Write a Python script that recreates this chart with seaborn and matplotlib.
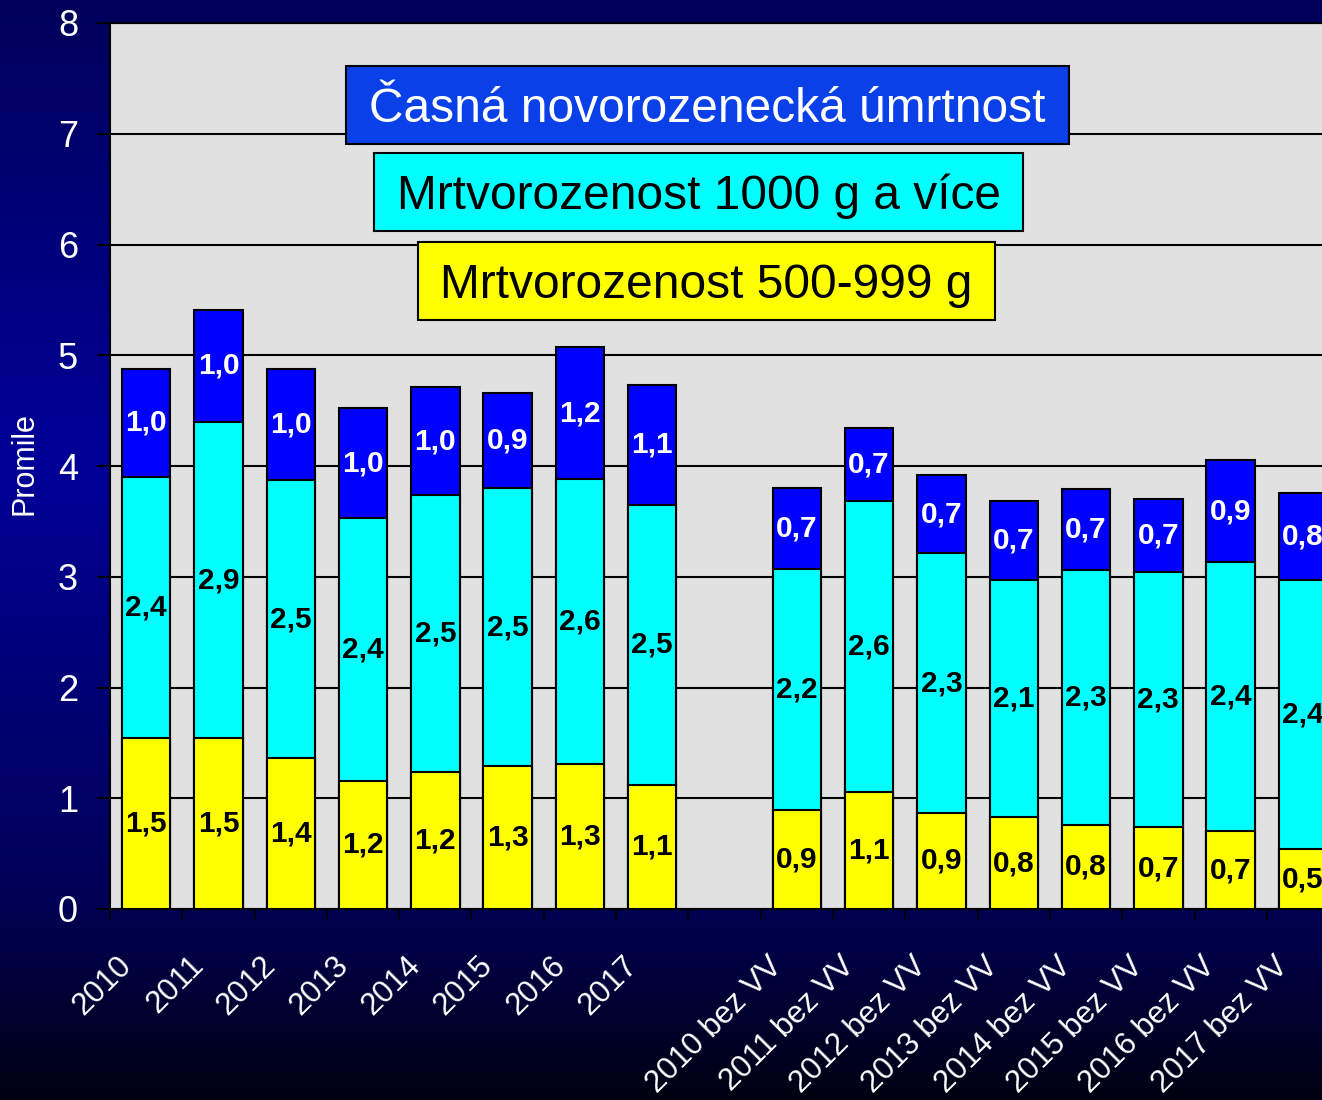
import numpy as np
import pandas as pd
import matplotlib
matplotlib.use("Agg")
import matplotlib.pyplot as plt
import matplotlib.transforms as mtransforms
from matplotlib.colors import LinearSegmentedColormap
from matplotlib.patches import Rectangle
import seaborn as sns

W, H = 1322, 1100

years = ["2010", "2011", "2012", "2013", "2014", "2015", "2016", "2017"]
years_bez = [y + " bez VV" for y in years]
categories = years + years_bez
gap = " "
order = years + [gap] + years_bez

# promile
mrtvo_500 = [1.54, 1.54, 1.36, 1.16, 1.24, 1.29, 1.31, 1.12,
             0.89, 1.06, 0.87, 0.83, 0.76, 0.74, 0.70, 0.54]
mrtvo_1000 = [2.36, 2.86, 2.51, 2.37, 2.50, 2.51, 2.57, 2.53,
              2.18, 2.62, 2.34, 2.14, 2.30, 2.30, 2.43, 2.43]
casna = [0.98, 1.01, 1.01, 0.99, 0.97, 0.86, 1.19, 1.08,
         0.73, 0.66, 0.71, 0.71, 0.73, 0.66, 0.92, 0.79]

legend_labels = ["Časná novorozenecká úmrtnost",
                 "Mrtvorozenost 1000 g a více",
                 "Mrtvorozenost 500-999 g"]

df = pd.DataFrame({"kat": categories, "m500": mrtvo_500,
                   "m1000": mrtvo_1000, "casna": casna})
df["do_1000"] = df["m500"] + df["m1000"]
df["celkem"] = df["do_1000"] + df["casna"]

sns.set_style("ticks")
plt.rcParams["font.family"] = ["Liberation Sans", "DejaVu Sans"]

fig = plt.figure(figsize=(W / 100, H / 100), dpi=100)
fig.patch.set_facecolor("#000030")

# background gradient
bg = fig.add_axes([0, 0, 1, 1], zorder=-10)
cmap = LinearSegmentedColormap.from_list(
    "bg", [(0, "#00005A"), (0.42, "#000098"), (0.82, "#000055"), (1.0, "#000012")])
bg.imshow(np.linspace(0, 1, 256).reshape(-1, 1), extent=[0, 1, 0, 1],
          aspect="auto", cmap=cmap)
bg.axis("off")

ax = fig.add_axes([110 / W, 1 - 909 / H, 17 * 72.3 / W, 886 / H])
ax.set_facecolor("#E1E1E1")

# overlapping bars: total, then lower two, then lowest
for col, color in [("celkem", "#0000FF"), ("do_1000", "#00FFFF"), ("m500", "#FFFF00")]:
    sns.barplot(data=df, x="kat", y=col, order=order, color=color, saturation=1,
                width=0.67, edgecolor="black", linewidth=1.5, errorbar=None,
                ax=ax, zorder=3)


def fmt(v):
    return f"{v:.1f}".replace(".", ",")


for _, row in df.iterrows():
    pos = order.index(row["kat"])
    kw = dict(ha="center", va="center", fontsize=21.5, fontweight="bold", zorder=5)
    ax.text(pos, row["m500"] / 2, fmt(row["m500"]), color="black", **kw)
    ax.text(pos, row["m500"] + row["m1000"] / 2, fmt(row["m1000"]), color="black", **kw)
    ax.text(pos, row["do_1000"] + row["casna"] / 2, fmt(row["casna"]), color="white", **kw)

ax.set_xlim(-0.5, len(order) - 0.5)
ax.set_ylim(0, 8)
ax.set_yticks(range(9))
ax.set_axisbelow(True)
ax.yaxis.grid(True, color="black", linewidth=1.5)
ax.xaxis.grid(False)
for s in ax.spines.values():
    s.set_color("black")
    s.set_linewidth(1.5)

ax.tick_params(axis="y", labelsize=26, labelcolor="white", length=9.5,
               width=1.5, color="black", pad=13.5)
ax.set_xticks(range(len(order)))
ax.set_xticks(np.arange(-0.5, len(order), 1), minor=True)
ax.tick_params(axis="x", which="major", length=0, pad=30)
ax.tick_params(axis="x", which="minor", length=7.5, width=1.5, color="black",
               direction="out")
ax.set_xticklabels(order, rotation=45, ha="right", va="top",
                   rotation_mode="anchor", color="white", fontsize=22.5)
offset = mtransforms.ScaledTranslation(-0.30, 0, fig.dpi_scale_trans)
for lab in ax.get_xticklabels():
    lab.set_transform(lab.get_transform() + offset)

ax.set_xlabel("")
ax.set_ylabel("Promile", color="white", fontsize=22)
ax.yaxis.set_label_coords(-0.057, 0.503)

# legend boxes
boxes = [(346, 66, 1069, 144, "#0A40E8", "white"),
         (374, 153, 1023, 231, "#00FFFF", "black"),
         (418, 242, 995, 320, "#FFFF00", "black")]
for (x0, y0, x1, y1, fc, tc), text in zip(boxes, legend_labels):
    fig.add_artist(Rectangle((x0 / W, 1 - y1 / H), (x1 - x0) / W, (y1 - y0) / H,
                             transform=fig.transFigure, facecolor=fc,
                             edgecolor="black", linewidth=1.5, zorder=6))
    fig.text((x0 + x1) / 2 / W, 1 - ((y0 + y1) / 2 + 17) / H, text, color=tc,
             fontsize=34.5, ha="center", va="baseline", zorder=7)

fig.savefig("out.png", dpi=100)
